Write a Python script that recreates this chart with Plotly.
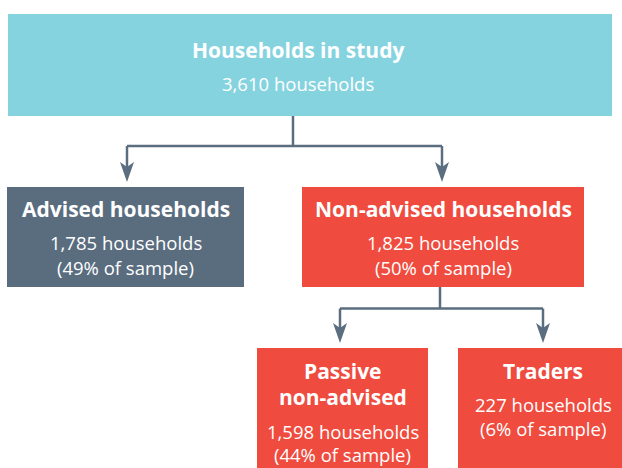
import plotly.graph_objects as go

# ---- data ----
node_titles = ["Households in study", "Advised households", "Non-advised households",
               "Passive<br>non-advised", "Traders"]
node_counts = [3610, 1785, 1825, 1598, 227]
node_shares = [None, 49, 50, 44, 6]
node_colors = ["#86d3e0", "#5a6d7f", "#ef4b3e", "#ef4b3e", "#ef4b3e"]

# ---- layout (pixel space of the page, y downward) ----
W, H = 622, 468
boxes = [(8, 612, 14, 116), (7, 244, 187, 287), (302, 584, 187, 287),
         (257, 428, 348, 480), (458, 630, 348, 480)]
centers = [298, 125.5, 443, 342.5, 543]
title_y = [[50], [209], [209], [371, 397], [371]]
detail_y = [[83], [242, 267], [242, 267], [431, 454], [404, 428]]
LINE = "#5b6e80"
FONT = "Open Sans"

fig = go.Figure()
shapes = []
ann = []

for i, (x0, x1, y0, y1) in enumerate(boxes):
    shapes.append(dict(type="rect", xref="x", yref="y", x0=x0, x1=x1, y0=y0, y1=y1,
                       fillcolor=node_colors[i], line=dict(width=0), layer="below"))
    cx = centers[i]
    for t, yy in zip(node_titles[i].split("<br>"), title_y[i]):
        ann.append(dict(x=cx, y=yy, text="<b>" + t + "</b>", showarrow=False,
                        xanchor="center", yanchor="middle",
                        font=dict(family=FONT, size=21, color="white")))
    lines = [f"{node_counts[i]:,} households"]
    if node_shares[i] is not None:
        lines.append(f"({node_shares[i]}% of sample)")
    for t, yy in zip(lines, detail_y[i]):
        ann.append(dict(x=cx, y=yy, text=t, showarrow=False,
                        xanchor="center", yanchor="middle",
                        font=dict(family=FONT, size=18.5, color="white")))

def seg(x0, y0, x1, y1):
    shapes.append(dict(type="line", xref="x", yref="y", x0=x0, y0=y0, x1=x1, y1=y1,
                       line=dict(color=LINE, width=2.5)))

def arrow(x, ytop, ytip):
    seg(x, ytop, x, ytip - 14)
    hl, hw, notch = 20, 7, 5
    b = ytip - hl
    shapes.append(dict(type="path", xref="x", yref="y",
                       path=f"M {x-hw},{b} L {x},{b+notch} L {x+hw},{b} L {x},{ytip} Z",
                       fillcolor=LINE, line=dict(width=0)))

# connectors from top box
seg(293, 116, 293, 146)
seg(127, 146, 442, 146)
arrow(127, 146, 182)
arrow(442, 146, 182)
# connectors from non-advised
seg(440, 287, 440, 308.5)
seg(340, 308.5, 543, 308.5)
arrow(340, 308.5, 343)
arrow(543, 308.5, 343)

fig.update_layout(
    width=W, height=H, margin=dict(l=0, r=0, t=0, b=0),
    paper_bgcolor="white", plot_bgcolor="white",
    xaxis=dict(range=[0, W], visible=False, fixedrange=True),
    yaxis=dict(range=[H, 0], visible=False, fixedrange=True),
    shapes=shapes, annotations=ann, showlegend=False,
)
fig.write_html(
    "out.html",
    config={"displayModeBar": False},
    post_script="document.body.style.margin='0';document.body.style.overflow='hidden';",
)
